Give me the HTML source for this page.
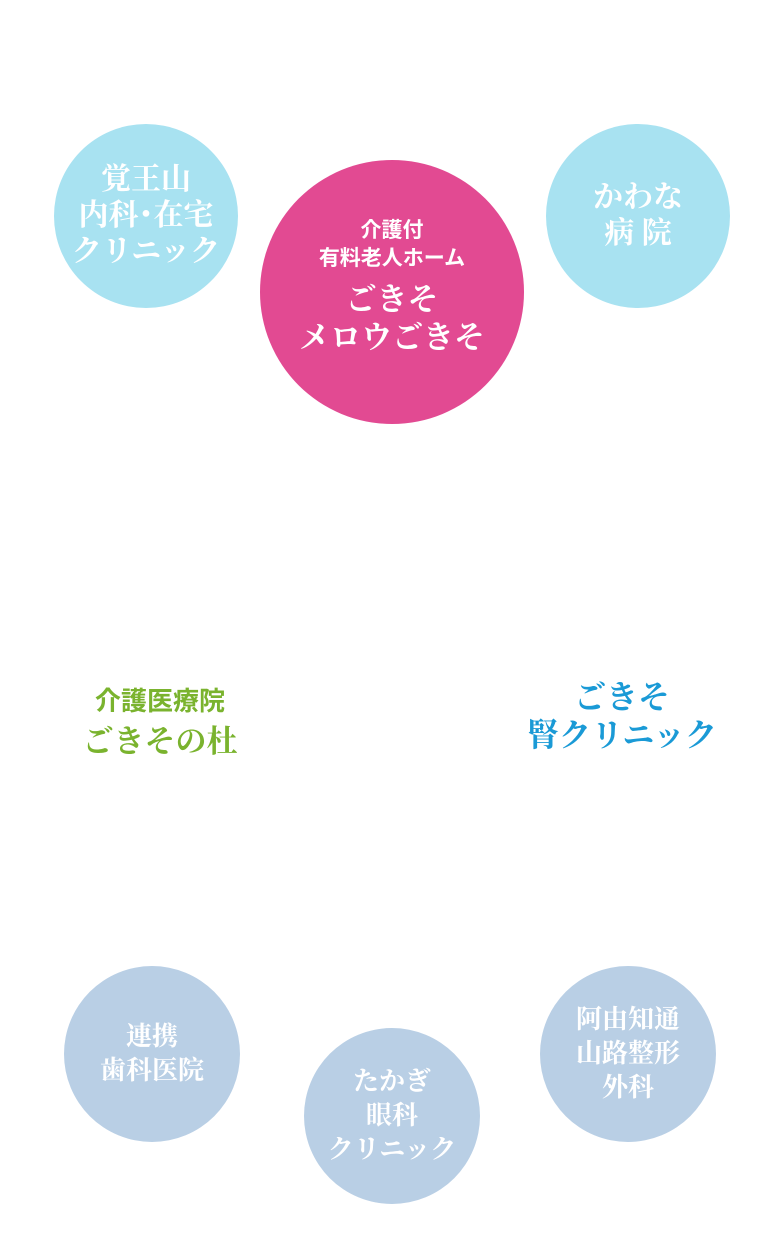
<!DOCTYPE html>
<html><head><meta charset="utf-8"><style>
body{margin:0;width:784px;height:1234px;background:#fff;position:relative;overflow:hidden}
.c{position:absolute;border-radius:50%;display:flex;flex-direction:column;align-items:center;justify-content:center;color:#fff;text-align:center}
.s{font-family:"Liberation Serif","Noto Serif CJK SC",serif;font-weight:bold}
.g{font-family:"Liberation Sans","Noto Sans CJK JP",sans-serif;font-weight:bold}
.t{position:absolute;text-align:center}
</style></head><body>
<div class="c s" style="left:54px;top:124px;width:184px;height:184px;background:#a8e2f1;font-size:30px;line-height:36px;">覚王山<br>内科･在宅<br>クリニック</div>
<div class="c" style="left:260px;top:160px;width:264px;height:264px;background:#e24a92;">
<div class="g" style="font-size:21px;line-height:28px;margin-top:-10px">介護付<br>有料老人ホーム</div>
<div class="s" style="font-size:31px;line-height:38px;margin-top:8px">ごきそ<br>メロウごきそ</div></div>
<div class="c s" style="left:546px;top:124px;width:184px;height:184px;background:#a8e2f1;font-size:30px;line-height:36px;">かわな<br>病 院</div>
<div class="t" style="left:60px;top:684px;width:200px;color:#7ab32e">
<div class="g" style="font-size:26px;line-height:34px">介護医療院</div>
<div class="s" style="font-size:31px;line-height:40px;margin-top:4px">ごきその杜</div></div>
<div class="t s" style="left:510px;top:678px;width:224px;color:#1a9ad6;font-size:32px;line-height:38px">ごきそ<br>腎クリニック</div>
<div class="c s" style="left:64px;top:966px;width:176px;height:176px;background:#b9cfe5;font-size:26px;line-height:34px;">連携<br>歯科医院</div>
<div class="c s" style="left:304px;top:1028px;width:176px;height:176px;background:#b9cfe5;font-size:26px;line-height:34px;">たかぎ<br>眼科<br>クリニック</div>
<div class="c s" style="left:540px;top:966px;width:176px;height:176px;background:#b9cfe5;font-size:26px;line-height:34px;">阿由知通<br>山路整形<br>外科</div>
</body></html>
